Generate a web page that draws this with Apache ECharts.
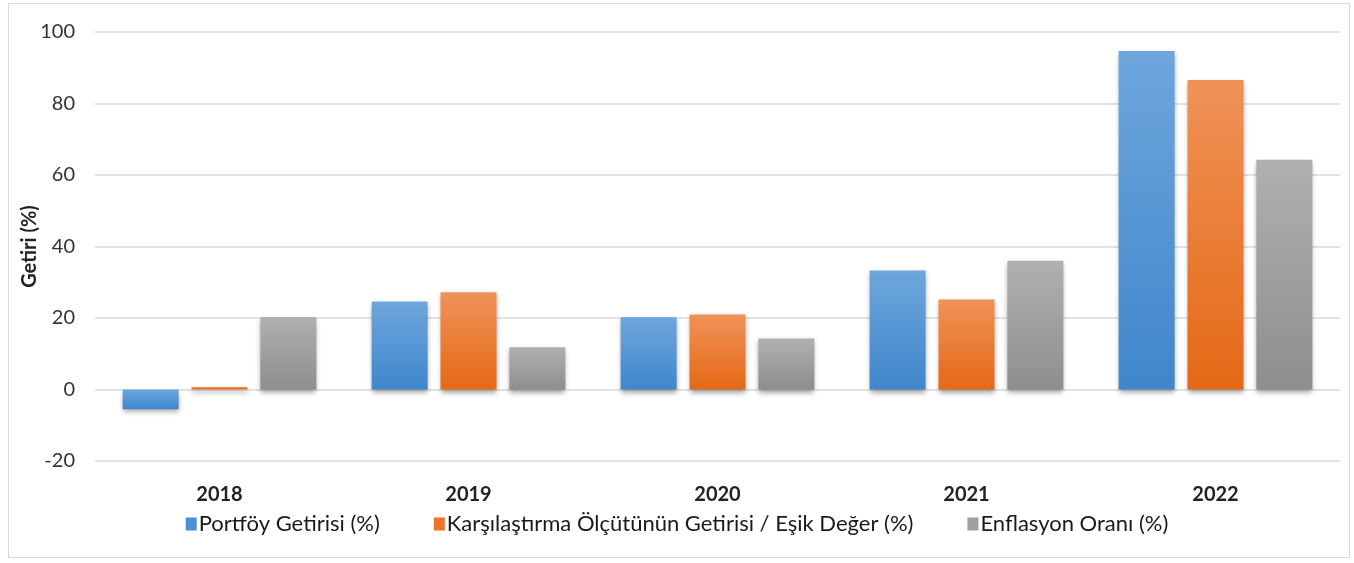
<!DOCTYPE html>
<html lang="tr">
<head>
    <meta charset="utf-8">
    <title>Getiri (%)</title>
    <script src="https://cdn.jsdelivr.net/npm/echarts@6/dist/echarts.min.js"></script>
    <style type="text/css">
        html, body {margin: 0; padding: 0; background: #fff;}
        #frame {position: absolute; left: 8px; top: 3px; width: 1340px; height: 553px; border: 1px solid #d9d9d9;}
        #chart {position: absolute; left: 0; top: 0; width: 1354px; height: 563px;}
    </style>
</head>
<body>
    <div id="frame"></div>
    <div id="chart"></div>
    <script>
        var years = ['2018', '2019', '2020', '2021', '2022'];
        var portfoy = [-5.5, 24.6, 20.2, 33.3, 94.7];
        var karsilastirma = [0.7, 27.2, 21.0, 25.2, 86.6];
        var enflasyon = [20.3, 11.8, 14.3, 36.0, 64.3];
        var yTicks = [-20, 0, 20, 40, 60, 80, 100];

        var font = 'Lato, "Open Sans", sans-serif';

        function grad(top, bottom) {
            return new echarts.graphic.LinearGradient(0, 0, 0, 1, [
                {offset: 0, color: top}, {offset: 1, color: bottom}
            ]);
        }
        function bar(name, data, top, bottom) {
            return {
                name: name, type: 'bar', data: data,
                barWidth: 56, barGap: '23%',
                itemStyle: {
                    color: grad(top, bottom),
                    shadowColor: 'rgba(0,0,0,0.35)', shadowBlur: 5, shadowOffsetY: 3
                }
            };
        }

        var chart = echarts.init(document.getElementById('chart'));
        chart.setOption({
            animation: false,
            grid: {left: 95, right: 14, top: 32, bottom: 102},
            legend: {
                bottom: 23, left: 'center', itemGap: 54,
                itemWidth: 11, itemHeight: 13, icon: 'rect',
                textStyle: {fontFamily: font, fontSize: 22, color: '#1a1a1a', padding: [0, 0, 0, -3]},
                data: [
                    {name: 'Portföy Getirisi (%)', itemStyle: {color: '#4a8fd4'}},
                    {name: 'Karşılaştırma Ölçütünün Getirisi / Eşik Değer (%)', itemStyle: {color: '#ed7428'}},
                    {name: 'Enflasyon Oranı (%)', itemStyle: {color: '#a0a0a0'}}
                ]
            },
            xAxis: {
                type: 'category', data: years,
                axisLine: {show: false}, axisTick: {show: false},
                axisLabel: {fontFamily: font, fontSize: 20, fontWeight: 'bold', color: '#222', margin: 24}
            },
            yAxis: {
                type: 'value', min: -20, max: 100, interval: 20,
                name: 'Getiri (%)', nameLocation: 'middle', nameGap: 55,
                nameMoveOverlap: false,
                nameTextStyle: {fontFamily: font, fontSize: 20, fontWeight: 'bold', color: '#222'},
                axisLabel: {
                    fontFamily: font, fontSize: 20, color: '#333', margin: 20,
                    formatter: function (v) { return yTicks.indexOf(v) >= 0 ? String(v) : ''; }
                },
                splitLine: {lineStyle: {color: '#d9d9d9', width: 1.5}}
            },
            series: [
                bar('Portföy Getirisi (%)', portfoy, '#6ea6dd', '#3f86cb'),
                bar('Karşılaştırma Ölçütünün Getirisi / Eşik Değer (%)', karsilastirma, '#f09258', '#e46916'),
                bar('Enflasyon Oranı (%)', enflasyon, '#b0b0b0', '#8e8e8e')
            ]
        });
    </script>
</body>
</html>
